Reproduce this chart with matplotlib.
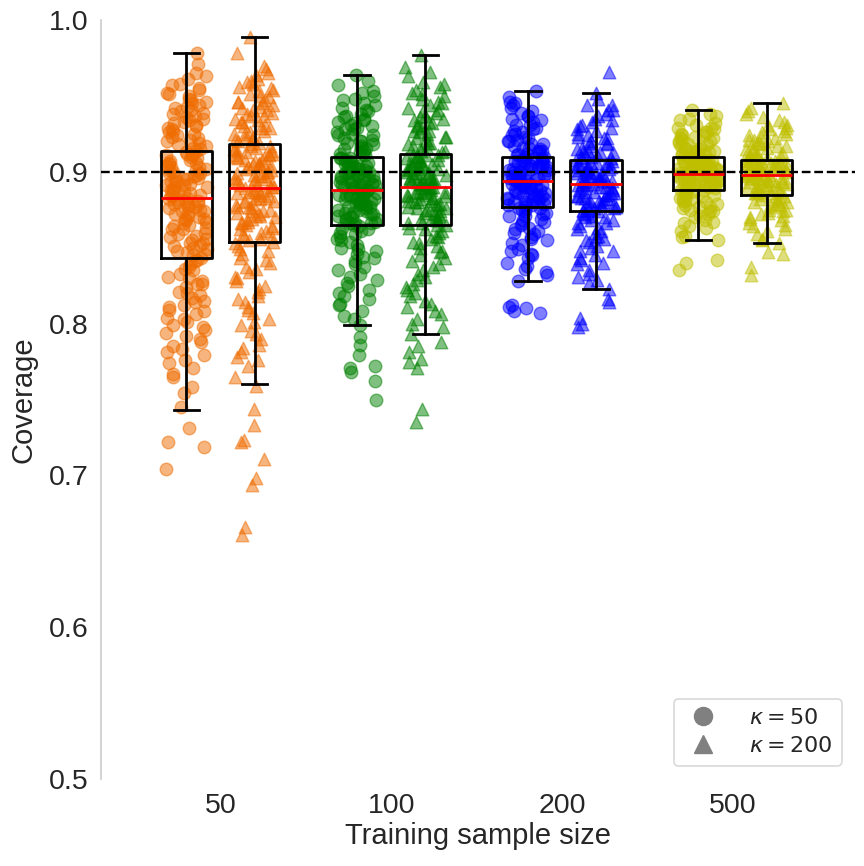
import numpy as np
import matplotlib
matplotlib.use("Agg")
import matplotlib.pyplot as plt
from matplotlib.lines import Line2D

# ---------------- data ----------------
sizes = ["50", "100", "200", "500"]
kappas = ["$\\kappa = 50$", "$\\kappa = 200$"]
colors = ["#ef6c00", "#008000", "#0000ff", "#bfbf00"]
target = 0.9

# box statistics (whisker low, Q1, median, Q3, whisker high), order: size x kappa
whislo = [0.743, 0.760, 0.799, 0.793, 0.828, 0.823, 0.855, 0.853]
q1     = [0.843, 0.854, 0.865, 0.865, 0.877, 0.874, 0.888, 0.885]
med    = [0.883, 0.889, 0.888, 0.890, 0.894, 0.892, 0.8985, 0.898]
q3     = [0.914, 0.918, 0.910, 0.912, 0.910, 0.908, 0.910, 0.908]
whishi = [0.978, 0.989, 0.964, 0.977, 0.953, 0.952, 0.941, 0.945]

# individual coverage values
cov_50_k50 = [0.704, 0.719, 0.722, 0.731, 0.745, 0.754, 0.758, 0.765, 0.771, 0.776, 0.781, 0.785,
              0.790, 0.794, 0.799, 0.803, 0.808, 0.812, 0.817, 0.821, 0.826, 0.830, 0.835, 0.839,
              0.843, 0.845, 0.847, 0.849, 0.852, 0.853, 0.856, 0.858, 0.859, 0.862, 0.864, 0.865,
              0.867, 0.869, 0.871, 0.872, 0.874, 0.876, 0.877, 0.879, 0.880, 0.881, 0.882, 0.883,
              0.884, 0.885, 0.887, 0.888, 0.889, 0.891, 0.892, 0.893, 0.895, 0.896, 0.897, 0.899,
              0.900, 0.901, 0.903, 0.904, 0.905, 0.906, 0.908, 0.909, 0.910, 0.911, 0.912, 0.913,
              0.915, 0.917, 0.919, 0.921, 0.923, 0.925, 0.927, 0.929, 0.931, 0.933, 0.935, 0.937,
              0.939, 0.941, 0.943, 0.945, 0.948, 0.951, 0.954, 0.957, 0.961, 0.965, 0.971, 0.978,
              0.779, 0.788, 0.796, 0.801, 0.806, 0.811, 0.815, 0.819, 0.824, 0.828, 0.833, 0.837,
              0.841, 0.846, 0.851, 0.855, 0.860, 0.863, 0.868, 0.873, 0.878, 0.882, 0.886, 0.890,
              0.894, 0.898, 0.902, 0.907, 0.911, 0.914, 0.918, 0.922, 0.926, 0.930, 0.934, 0.938,
              0.942, 0.946, 0.950, 0.955, 0.862, 0.870, 0.875, 0.879, 0.887, 0.893, 0.897, 0.903,
              0.853, 0.848,
              0.767, 0.774, 0.783, 0.792, 0.798, 0.804, 0.809, 0.814, 0.820, 0.826, 0.831, 0.836,
              0.842, 0.850, 0.857, 0.866, 0.874, 0.881, 0.888, 0.895, 0.901, 0.906, 0.912, 0.916,
              0.920, 0.924, 0.928, 0.932, 0.936, 0.940, 0.944, 0.947, 0.952, 0.958, 0.963, 0.869,
              0.877, 0.885, 0.891, 0.899]
cov_50_k200 = [0.661, 0.666, 0.694, 0.698, 0.711, 0.722, 0.723, 0.733, 0.744, 0.759,
               0.765, 0.776, 0.786, 0.795, 0.803, 0.811, 0.818, 0.825, 0.831, 0.837, 0.843, 0.849,
               0.854, 0.856, 0.857, 0.859, 0.861, 0.862, 0.864, 0.866, 0.867, 0.869, 0.871, 0.872,
               0.874, 0.875, 0.877, 0.878, 0.880, 0.881, 0.883, 0.884, 0.885, 0.886, 0.887, 0.888,
               0.889, 0.890, 0.891, 0.893, 0.894, 0.895, 0.897, 0.898, 0.899, 0.901, 0.902, 0.903,
               0.905, 0.906, 0.907, 0.909, 0.910, 0.911, 0.912, 0.913, 0.914, 0.915, 0.916, 0.917,
               0.919, 0.921, 0.923, 0.925, 0.927, 0.929, 0.931, 0.933, 0.935, 0.937, 0.939, 0.941,
               0.943, 0.945, 0.947, 0.950, 0.953, 0.956, 0.958, 0.961, 0.965, 0.970, 0.978, 0.989,
               0.772, 0.781, 0.790, 0.799, 0.807, 0.814, 0.821, 0.828, 0.834, 0.840, 0.846, 0.851,
               0.855, 0.858, 0.863, 0.868, 0.873, 0.876, 0.879, 0.882, 0.886, 0.890, 0.892, 0.896,
               0.900, 0.904, 0.908, 0.911, 0.915, 0.918, 0.922, 0.926, 0.930, 0.934, 0.938, 0.942,
               0.946, 0.951, 0.955, 0.960, 0.865, 0.870, 0.881, 0.888, 0.893, 0.899, 0.904, 0.912,
               0.920, 0.944,
               0.778, 0.784, 0.793, 0.801, 0.809, 0.816, 0.823, 0.830, 0.836, 0.842, 0.848, 0.853,
               0.860, 0.866, 0.871, 0.877, 0.883, 0.887, 0.891, 0.895, 0.900, 0.905, 0.909, 0.914,
               0.917, 0.921, 0.925, 0.929, 0.933, 0.937, 0.941, 0.946, 0.949, 0.954, 0.959, 0.964,
               0.968, 0.874, 0.897, 0.908]
cov_100_k50 = [0.750, 0.762, 0.768, 0.771, 0.772, 0.779, 0.786, 0.791,
               0.799, 0.803, 0.808, 0.813, 0.818, 0.822, 0.827, 0.831, 0.835, 0.839, 0.843, 0.846,
               0.849, 0.852, 0.855, 0.858, 0.861, 0.863,
               0.865, 0.866, 0.866, 0.868, 0.869, 0.870, 0.871, 0.873, 0.873, 0.874, 0.876, 0.877,
               0.878, 0.879, 0.880, 0.881, 0.882, 0.882, 0.884, 0.885, 0.885, 0.886, 0.887, 0.888,
               0.888, 0.889, 0.890, 0.891, 0.891, 0.892, 0.893, 0.894, 0.895, 0.896, 0.897, 0.897,
               0.898, 0.899, 0.900, 0.901, 0.902, 0.903, 0.904, 0.905, 0.906, 0.907, 0.908, 0.909,
               0.911, 0.912, 0.914, 0.915, 0.916, 0.918, 0.919, 0.921, 0.922, 0.924, 0.926, 0.928,
               0.929, 0.931, 0.933, 0.935, 0.937, 0.940, 0.942, 0.945, 0.948, 0.952, 0.957, 0.964,
               0.812, 0.820, 0.829, 0.837, 0.844, 0.850, 0.856, 0.860, 0.864, 0.867, 0.870, 0.872,
               0.875, 0.877, 0.880, 0.883, 0.886, 0.889, 0.892, 0.894, 0.896, 0.899, 0.901, 0.904,
               0.906, 0.909, 0.913, 0.917, 0.920, 0.925, 0.930, 0.934, 0.938, 0.944, 0.950, 0.878,
               0.884, 0.890, 0.898, 0.903,
               0.805, 0.816, 0.825, 0.833, 0.841, 0.848, 0.854, 0.859, 0.862, 0.866, 0.869, 0.872,
               0.875, 0.879, 0.882, 0.885, 0.888, 0.891, 0.894, 0.897, 0.900, 0.903, 0.906, 0.909,
               0.912, 0.916, 0.920, 0.924, 0.928, 0.932, 0.936, 0.941, 0.947, 0.953, 0.960]
cov_100_k200 = [0.735, 0.744, 0.771, 0.775, 0.777, 0.781, 0.785, 0.788,
                0.793, 0.798, 0.803, 0.808, 0.813, 0.818, 0.822, 0.826, 0.831, 0.835, 0.839, 0.843,
                0.847, 0.850, 0.854, 0.857, 0.860, 0.863,
                0.865, 0.866, 0.868, 0.869, 0.870, 0.871, 0.873, 0.874, 0.875, 0.876, 0.877, 0.879,
                0.880, 0.881, 0.882, 0.883, 0.884, 0.885, 0.886, 0.886, 0.887, 0.888, 0.889, 0.889,
                0.890, 0.891, 0.892, 0.893, 0.894, 0.895, 0.895, 0.896, 0.897, 0.898, 0.899, 0.900,
                0.901, 0.902, 0.903, 0.904, 0.905, 0.906, 0.907, 0.908, 0.909, 0.910, 0.911, 0.911,
                0.913, 0.914, 0.916, 0.917, 0.919, 0.921, 0.923, 0.925, 0.927, 0.929, 0.931, 0.933,
                0.935, 0.937, 0.940, 0.942, 0.945, 0.948, 0.951, 0.954, 0.958, 0.963, 0.969, 0.977,
                0.806, 0.815, 0.824, 0.833, 0.841, 0.848, 0.853, 0.858, 0.862, 0.866, 0.869, 0.872,
                0.875, 0.878, 0.881, 0.884, 0.887, 0.890, 0.893, 0.896, 0.899, 0.902, 0.904, 0.907,
                0.910, 0.914, 0.918, 0.922, 0.926, 0.930, 0.934, 0.939, 0.944, 0.950, 0.956, 0.879,
                0.885, 0.892, 0.897, 0.903,
                0.800, 0.811, 0.820, 0.829, 0.837, 0.845, 0.851, 0.856, 0.861, 0.865, 0.868, 0.872,
                0.876, 0.880, 0.883, 0.887, 0.890, 0.893, 0.896, 0.899, 0.902, 0.905, 0.908, 0.911,
                0.915, 0.919, 0.923, 0.927, 0.932, 0.936, 0.941, 0.946, 0.952, 0.959, 0.966]
cov_200_k50 = [0.807, 0.808, 0.810, 0.811, 0.812,
               0.828, 0.832, 0.836, 0.840, 0.843, 0.846, 0.849, 0.852, 0.855, 0.857, 0.859, 0.861,
               0.863, 0.865, 0.867, 0.869, 0.871, 0.873, 0.874, 0.876,
               0.877, 0.878, 0.878, 0.879, 0.880, 0.881, 0.881, 0.882, 0.883, 0.884, 0.884, 0.885,
               0.886, 0.887, 0.887, 0.888, 0.889, 0.890, 0.890, 0.891, 0.892, 0.892, 0.893, 0.894,
               0.894, 0.895, 0.896, 0.896, 0.897, 0.898, 0.898, 0.899, 0.900, 0.900, 0.901, 0.902,
               0.902, 0.903, 0.904, 0.904, 0.905, 0.906, 0.906, 0.907, 0.908, 0.908, 0.909, 0.910,
               0.911, 0.912, 0.913, 0.914, 0.915, 0.916, 0.917, 0.918, 0.920, 0.921, 0.922, 0.924,
               0.925, 0.927, 0.929, 0.931, 0.933, 0.935, 0.937, 0.939, 0.942, 0.945, 0.949, 0.953,
               0.838, 0.848, 0.856, 0.862, 0.868, 0.872, 0.876, 0.880, 0.883, 0.886, 0.889, 0.892,
               0.895, 0.898, 0.901, 0.904, 0.907, 0.910, 0.914, 0.918, 0.923, 0.928, 0.934, 0.940,
               0.946,
               0.834, 0.845, 0.853, 0.860, 0.866, 0.871, 0.875, 0.879, 0.882, 0.885, 0.888, 0.891,
               0.894, 0.897, 0.900, 0.903, 0.906, 0.909, 0.912, 0.916, 0.920, 0.926, 0.931, 0.937,
               0.944]
cov_200_k200 = [0.798, 0.800, 0.804, 0.814, 0.816,
                0.823, 0.827, 0.831, 0.835, 0.839, 0.842, 0.845, 0.848, 0.851, 0.854, 0.856, 0.858,
                0.860, 0.862, 0.864, 0.866, 0.868, 0.870, 0.871, 0.873,
                0.874, 0.875, 0.875, 0.876, 0.877, 0.878, 0.879, 0.879, 0.880, 0.881, 0.882, 0.883,
                0.883, 0.884, 0.885, 0.886, 0.886, 0.887, 0.888, 0.889, 0.889, 0.890, 0.891, 0.892,
                0.892, 0.893, 0.894, 0.894, 0.895, 0.896, 0.896, 0.897, 0.898, 0.898, 0.899, 0.900,
                0.900, 0.901, 0.902, 0.902, 0.903, 0.904, 0.904, 0.905, 0.906, 0.906, 0.907, 0.908,
                0.909, 0.910, 0.911, 0.912, 0.913, 0.914, 0.915, 0.916, 0.918, 0.919, 0.920, 0.922,
                0.923, 0.925, 0.927, 0.929, 0.931, 0.933, 0.935, 0.938, 0.941, 0.944, 0.948, 0.952,
                0.966,
                0.833, 0.843, 0.850, 0.857, 0.863, 0.868, 0.872, 0.876, 0.879, 0.882, 0.885, 0.888,
                0.891, 0.894, 0.897, 0.900, 0.903, 0.906, 0.910, 0.914, 0.919, 0.924, 0.930, 0.937,
                0.944,
                0.829, 0.840, 0.848, 0.855, 0.861, 0.866, 0.870, 0.874, 0.878, 0.881, 0.884, 0.887,
                0.890, 0.893, 0.896, 0.899, 0.902, 0.905, 0.909, 0.913, 0.917, 0.922, 0.928, 0.934,
                0.941]
cov_500_k50 = [0.835, 0.840, 0.842,
               0.855, 0.858, 0.861, 0.864, 0.866, 0.868, 0.870, 0.872, 0.874, 0.875, 0.876, 0.877,
               0.878, 0.880, 0.881, 0.882, 0.883, 0.884, 0.885, 0.886, 0.887,
               0.888, 0.888, 0.889, 0.889, 0.890, 0.890, 0.891, 0.891, 0.892, 0.892, 0.893, 0.893,
               0.894, 0.894, 0.895, 0.895, 0.896, 0.896, 0.896, 0.897, 0.897, 0.898, 0.898, 0.898,
               0.899, 0.899, 0.900, 0.900, 0.901, 0.901, 0.902, 0.902, 0.903, 0.903, 0.904, 0.904,
               0.905, 0.905, 0.906, 0.906, 0.907, 0.907, 0.908, 0.908, 0.909, 0.909, 0.910, 0.910,
               0.911, 0.912, 0.912, 0.913, 0.914, 0.915, 0.915, 0.916, 0.917, 0.918, 0.919, 0.920,
               0.921, 0.922, 0.923, 0.924, 0.925, 0.926, 0.928, 0.929, 0.931, 0.934, 0.937, 0.941,
               0.857, 0.863, 0.867, 0.871, 0.874, 0.877, 0.879, 0.881, 0.883, 0.885, 0.887, 0.889,
               0.891, 0.893, 0.894, 0.896, 0.897, 0.899, 0.900, 0.902, 0.903, 0.905, 0.906, 0.908,
               0.909, 0.911, 0.913, 0.914, 0.916, 0.918, 0.920, 0.922, 0.924, 0.926, 0.929, 0.932,
               0.935, 0.938, 0.892, 0.901]
cov_500_k200 = [0.832, 0.837, 0.846, 0.847,
                0.853, 0.856, 0.859, 0.862, 0.864, 0.866, 0.868, 0.870, 0.871, 0.873, 0.874, 0.875,
                0.877, 0.878, 0.879, 0.880, 0.881, 0.882, 0.883, 0.884,
                0.885, 0.886, 0.886, 0.887, 0.887, 0.888, 0.889, 0.889, 0.890, 0.890, 0.891, 0.891,
                0.892, 0.893, 0.893, 0.894, 0.894, 0.895, 0.895, 0.896, 0.896, 0.897, 0.897, 0.898,
                0.898, 0.899, 0.899, 0.899, 0.900, 0.900, 0.901, 0.901, 0.901, 0.902, 0.902, 0.903,
                0.903, 0.904, 0.904, 0.904, 0.905, 0.905, 0.906, 0.906, 0.906, 0.907, 0.907, 0.908,
                0.909, 0.910, 0.910, 0.911, 0.912, 0.913, 0.914, 0.915, 0.916, 0.917, 0.918, 0.919,
                0.920, 0.921, 0.922, 0.924, 0.925, 0.927, 0.929, 0.931, 0.933, 0.936, 0.940, 0.945,
                0.855, 0.861, 0.865, 0.869, 0.872, 0.875, 0.878, 0.880, 0.882, 0.884, 0.886, 0.888,
                0.890, 0.892, 0.893, 0.895, 0.896, 0.898, 0.899, 0.900, 0.902, 0.903, 0.905, 0.906,
                0.907, 0.909, 0.911, 0.913, 0.915, 0.917, 0.919, 0.921, 0.923, 0.926, 0.928, 0.931,
                0.934, 0.938, 0.942, 0.901]

groups = [cov_50_k50, cov_50_k200, cov_100_k50, cov_100_k200,
          cov_200_k50, cov_200_k200, cov_500_k50, cov_500_k200]

# ---------------- figure ----------------
plt.rcParams["font.family"] = ["Liberation Sans", "DejaVu Sans"]
plt.rcParams["mathtext.fontset"] = "dejavusans"

fig = plt.figure(figsize=(8.64, 8.66), dpi=100)
ax = fig.add_axes([101 / 864, 1 - 779 / 866, 754 / 864, 759 / 866])

markers = ["o", "^"]
offset = 0.2
box_w = 0.3
jit = 0.12

positions = []
stats = []
for i in range(len(sizes)):
    for k in range(2):
        g = i * 2 + k
        pos = i + (-offset if k == 0 else offset)
        positions.append(pos)
        vals = np.asarray(groups[g])
        n = len(vals)
        idx = np.arange(n)
        # deterministic hash-based horizontal jitter (layout only)
        frac = np.abs(np.sin(idx * 12.9898 + g * 78.233) * 43758.5453) % 1.0
        xs = pos + (frac - 0.5) * 2 * jit
        ax.scatter(xs, vals, s=82, marker=markers[k], color=colors[i],
                   alpha=0.5, linewidths=1.0, zorder=2)
        stats.append(dict(whislo=whislo[g], q1=q1[g], med=med[g], q3=q3[g],
                          whishi=whishi[g], fliers=[]))

ax.bxp(stats, positions=positions, widths=box_w, showfliers=False, patch_artist=False,
       boxprops=dict(color="black", linewidth=2.0),
       whiskerprops=dict(color="black", linewidth=2.0),
       capprops=dict(color="black", linewidth=2.0),
       medianprops=dict(color="red", linewidth=2.0),
       manage_ticks=False, zorder=3)

ax.axhline(target, color="black", linestyle="--", linewidth=1.7, zorder=4)

ax.set_xlim(-0.70, 3.717)
ax.set_ylim(0.5, 1.0)
ax.set_xticks(range(len(sizes)))
ax.set_xticklabels(sizes)
ax.set_yticks([0.5, 0.6, 0.7, 0.8, 0.9, 1.0])
ax.set_yticklabels(["0.5", "0.6", "0.7", "0.8", "0.9", "1.0"])
ax.tick_params(axis="both", length=0, labelsize=20.5, colors="#262626")
ax.tick_params(axis="y", pad=9)
ax.tick_params(axis="x", pad=10)

ax.set_xlabel("Training sample size", fontsize=21, color="#262626", labelpad=2)
ax.set_ylabel("Coverage", fontsize=21, color="#262626", labelpad=8)

for side in ["top", "right", "bottom"]:
    ax.spines[side].set_visible(False)
ax.spines["left"].set_color("#cccccc")
ax.spines["left"].set_linewidth(1.2)
ax.set_facecolor("white")

handles = [Line2D([], [], marker="o", linestyle="none", color="gray", markersize=13),
           Line2D([], [], marker="^", linestyle="none", color="gray", markersize=13)]
leg = ax.legend(handles, kappas, loc="lower right", fontsize=16, frameon=True,
                handletextpad=1.2, borderaxespad=0.6, labelspacing=0.3,
                borderpad=0.4, handlelength=1.8)
leg.get_frame().set_edgecolor("#d0d0d0")
leg.get_frame().set_linewidth(1.2)
for t in leg.get_texts():
    t.set_color("#262626")

fig.savefig("out.png", dpi=100, facecolor="white")
